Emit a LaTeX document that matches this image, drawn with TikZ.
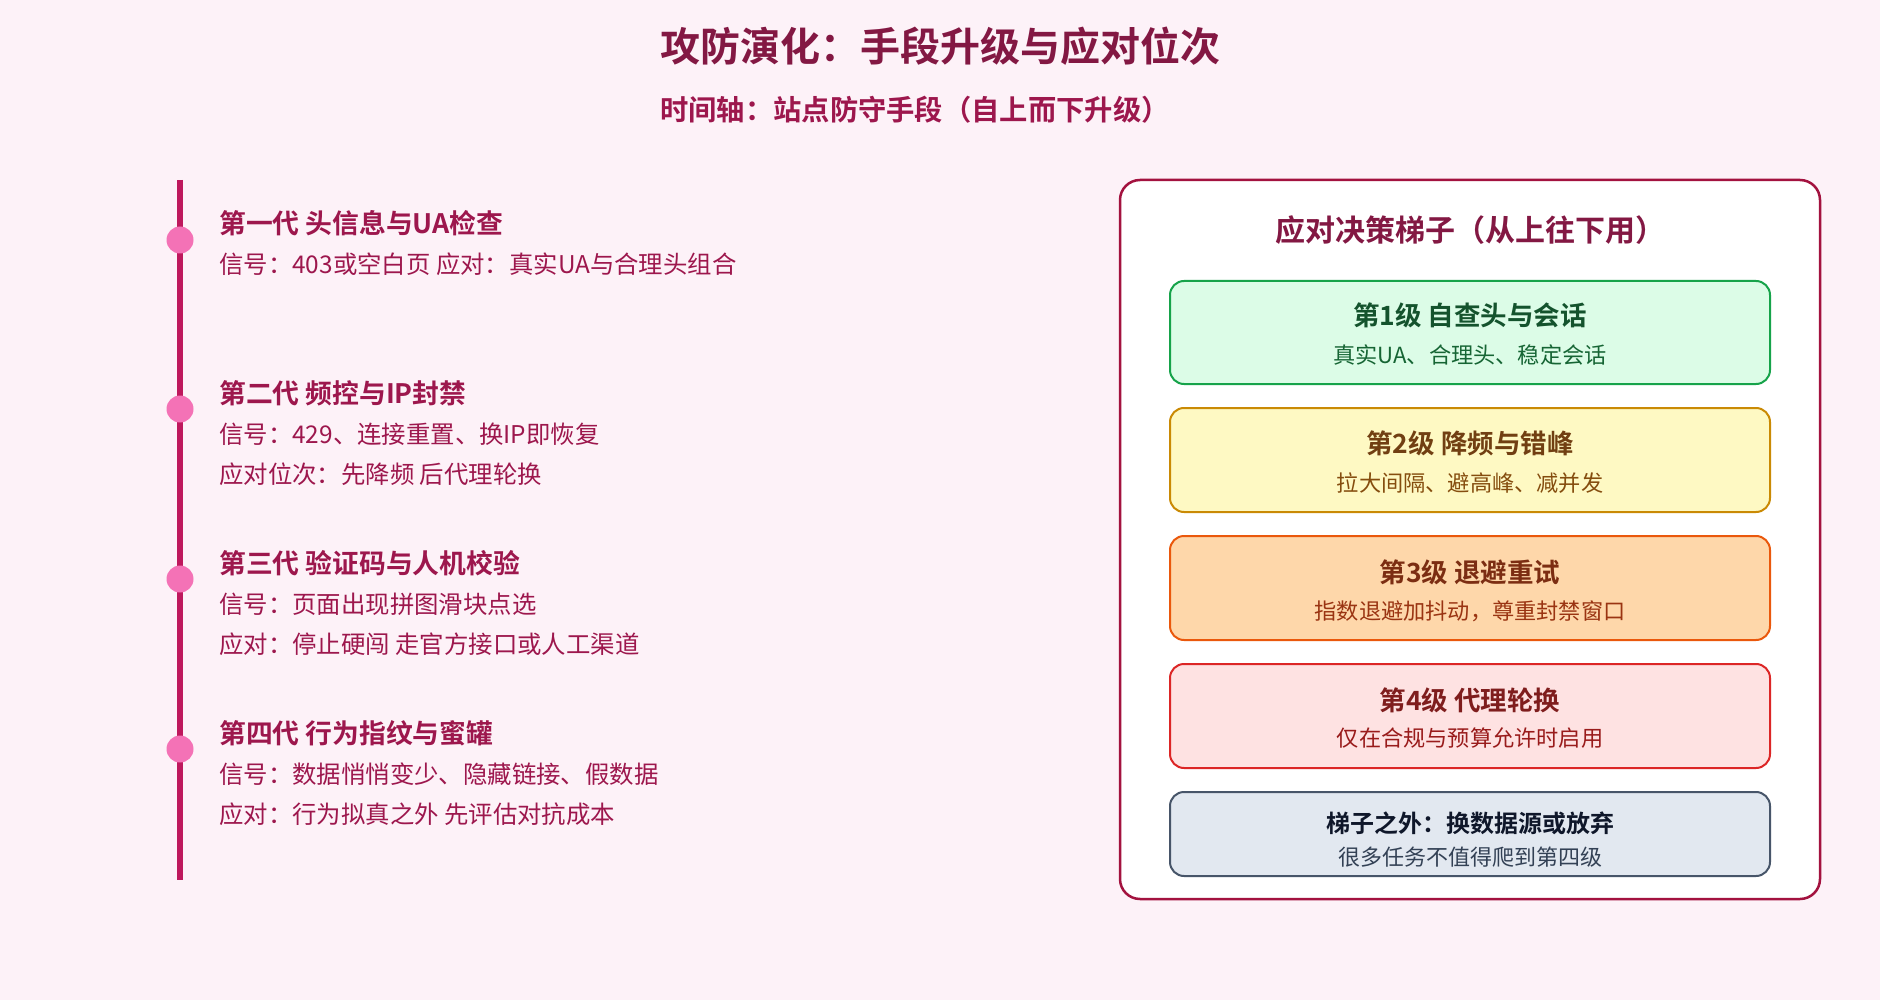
\documentclass[tikz,border=0pt]{standalone}
\usepackage{fontspec}
\setmainfont{Noto Sans CJK SC}[BoldFont={Noto Sans CJK SC Bold}]
\definecolor{bgpink}{HTML}{FDF2F8}
\definecolor{titlec}{HTML}{831843}
\definecolor{headc}{HTML}{9D174D}
\definecolor{bodyc}{HTML}{9D174D}
\definecolor{linec}{HTML}{BE185D}
\definecolor{dotc}{HTML}{F472B6}
\definecolor{panelc}{HTML}{A3123F}
\definecolor{gfill}{HTML}{DCFCE7}\definecolor{gline}{HTML}{16A34A}\definecolor{gtit}{HTML}{14532D}\definecolor{gtxt}{HTML}{166534}
\definecolor{yfill}{HTML}{FEF9C3}\definecolor{yline}{HTML}{CA8A04}\definecolor{ytit}{HTML}{713F12}\definecolor{ytxt}{HTML}{854D0E}
\definecolor{ofill}{HTML}{FED7AA}\definecolor{oline}{HTML}{EA580C}\definecolor{otit}{HTML}{7C2D12}\definecolor{otxt}{HTML}{9A3412}
\definecolor{rfill}{HTML}{FEE2E2}\definecolor{rline}{HTML}{DC2626}\definecolor{rtit}{HTML}{7F1D1D}\definecolor{rtxt}{HTML}{991B1B}
\definecolor{sfill}{HTML}{E2E8F0}\definecolor{sline}{HTML}{475569}\definecolor{stit}{HTML}{0F172A}\definecolor{stxt}{HTML}{334155}
\tikzset{
  lefttxt/.style={anchor=west,inner sep=0pt},
  headtxt/.style={lefttxt,text=headc,font=\fontsize{26.8}{30}\selectfont\bfseries},
  bodytxt/.style={lefttxt,text=bodyc,font=\fontsize{24.4}{28}\selectfont},
  dot/.style={circle,fill=dotc,minimum size=27pt,inner sep=0pt},
  ladder/.style={draw,line width=2pt,rounded corners=14pt},
  ltitle/.style={inner sep=0pt,font=\fontsize{26.5}{30}\selectfont\bfseries},
  lbody/.style={inner sep=0pt,font=\fontsize{22.2}{26}\selectfont},
}
\begin{document}
\begin{tikzpicture}[x=1pt,y=-1pt]
\fill[bgpink] (0,0) rectangle (1880,1000);
\useasboundingbox (0,0) rectangle (1880,1000);
% titles
\node[inner sep=0pt,text=titlec,font=\fontsize{40}{46}\selectfont\bfseries] (title) at (940,46) {攻防演化：手段升级与应对位次};
\node[lefttxt,text=headc,font=\fontsize{28.3}{32}\selectfont\bfseries] (subtitle) at (660,110) {时间轴：站点防守手段（自上而下升级）};
% timeline
\coordinate (ltop) at (180,180);
\coordinate (lbot) at (180,880);
\draw[linec,line width=6pt] (ltop) -- (lbot);
\node[dot] (d1) at (180,240) {};
\node[dot] (d2) at (180,409) {};
\node[dot] (d3) at (180,579) {};
\node[dot] (d4) at (180,749) {};
\node[headtxt] (h1) at (219,223) {第一代 头信息与UA检查};
\node[bodytxt] (b1a) at (219,264) {信号：403或空白页 应对：真实UA与合理头组合};
\node[headtxt] (h2) at (219,393) {第二代 频控与IP封禁};
\node[bodytxt] (b2a) at (219,434) {信号：429、连接重置、换IP即恢复};
\node[bodytxt] (b2b) at (219,474) {应对位次：先降频 后代理轮换};
\node[headtxt] (h3) at (219,563) {第三代 验证码与人机校验};
\node[bodytxt] (b3a) at (219,604) {信号：页面出现拼图滑块点选};
\node[bodytxt] (b3b) at (219,644) {应对：停止硬闯 走官方接口或人工渠道};
\node[headtxt] (h4) at (219,733) {第四代 行为指纹与蜜罐};
\node[bodytxt] (b4a) at (219,774) {信号：数据悄悄变少、隐藏链接、假数据};
\node[bodytxt] (b4b) at (219,814) {应对：行为拟真之外 先评估对抗成本};
% panel
\draw[panelc,fill=white,line width=2.5pt,rounded corners=20pt] (1120,180) rectangle (1820,899);
\node[inner sep=0pt,text=titlec,font=\fontsize{30}{34}\selectfont\bfseries] (ptitle) at (1470,230) {应对决策梯子（从上往下用）};
% ladder
\draw[ladder,draw=gline,fill=gfill] (1170,281) rectangle (1770,384);
\node[ltitle,text=gtit] (l1t) at (1470,315) {第1级 自查头与会话};
\node[lbody,text=gtxt] (l1b) at (1470,355) {真实UA、合理头、稳定会话};
\draw[ladder,draw=yline,fill=yfill] (1170,408) rectangle (1770,512);
\node[ltitle,text=ytit] (l2t) at (1470,443) {第2级 降频与错峰};
\node[lbody,text=ytxt] (l2b) at (1470,483) {拉大间隔、避高峰、减并发};
\draw[ladder,draw=oline,fill=ofill] (1170,536) rectangle (1770,640);
\node[ltitle,text=otit] (l3t) at (1470,572) {第3级 退避重试};
\node[lbody,text=otxt] (l3b) at (1470,611) {指数退避加抖动，尊重封禁窗口};
\draw[ladder,draw=rline,fill=rfill] (1170,664) rectangle (1770,768);
\node[ltitle,text=rtit] (l4t) at (1470,700) {第4级 代理轮换};
\node[lbody,text=rtxt] (l4b) at (1470,738) {仅在合规与预算允许时启用};
\draw[ladder,draw=sline,fill=sfill] (1170,792) rectangle (1770,876);
\node[inner sep=0pt,text=stit,font=\fontsize{24}{28}\selectfont\bfseries] (l5t) at (1470,823) {梯子之外：换数据源或放弃};
\node[inner sep=0pt,text=stxt,font=\fontsize{22}{26}\selectfont] (l5b) at (1470,857) {很多任务不值得爬到第四级};
\end{tikzpicture}
\end{document}
